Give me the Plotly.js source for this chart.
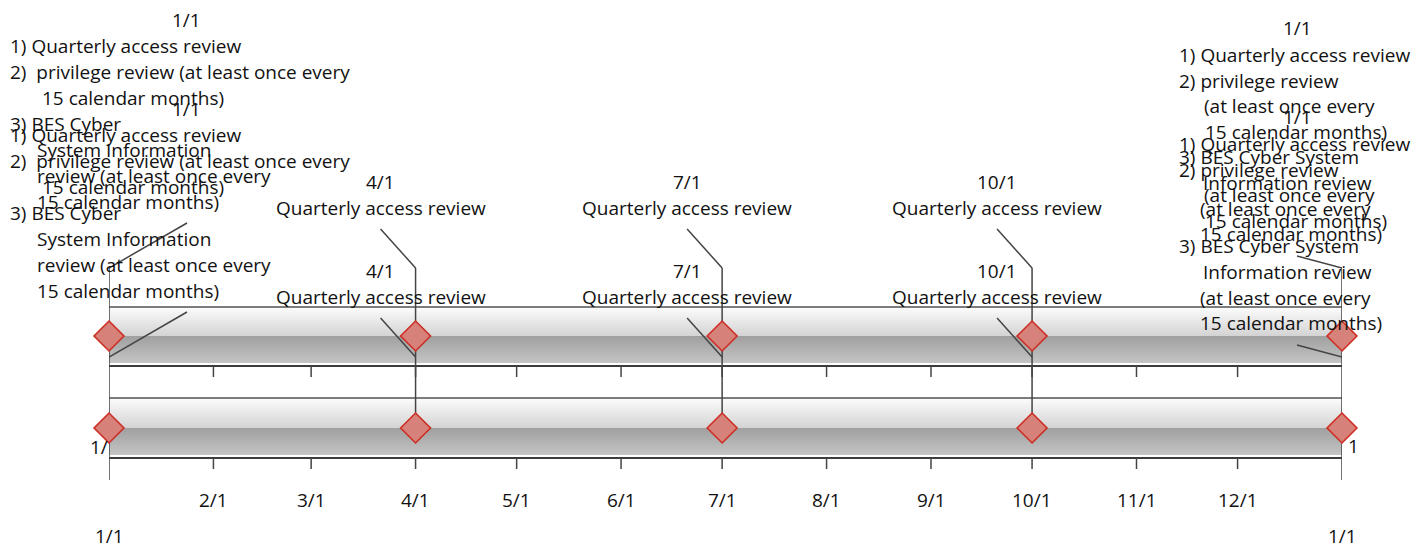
<!DOCTYPE html>
<html><head><meta charset="utf-8">
<script src="https://cdn.plot.ly/plotly-3.0.1.min.js"></script>
<style>html,body{margin:0;padding:0;background:#fff}#chart{width:1425px;height:550px}</style>
</head><body><div id="chart"></div>
<script>
// ---- data ----
const monthDates = ['2024-01-01','2024-02-01','2024-03-01','2024-04-01','2024-05-01','2024-06-01','2024-07-01','2024-08-01','2024-09-01','2024-10-01','2024-11-01','2024-12-01','2025-01-01'];
const monthLabels = ['1/1','2/1','3/1','4/1','5/1','6/1','7/1','8/1','9/1','10/1','11/1','12/1','1/1'];
const milestoneDates = ['2024-01-01','2024-04-01','2024-07-01','2024-10-01','2025-01-01'];
const milestoneLabels = ['1/1','4/1','7/1','10/1','1/1'];
const startDescription = ['1) Quarterly access review','2)  privilege review (at least once every','15 calendar months)','3) BES Cyber','System Information','review (at least once every','15 calendar months)'];
const startIndent = [0,0,32,0,27,27,27];
const quarterDescription = ['Quarterly access review'];
const endDescription = ['1) Quarterly access review','2) privilege review','(at least once every','15 calendar months)','3) BES Cyber System','Information review','(at least once every','15 calendar months)'];
const endIndent = [0,0,25,26,0,24,21,21];

// ---- layout helpers ----
const FONT = {family:'Open Sans, Noto Sans, sans-serif', size:19, color:'#111'};
const first = monthDates[0], last = monthDates[monthDates.length-1];
const shapes = [], annotations = [];
const LINE = '#444';

function hex(c){return 'rgb('+c.map(v=>Math.round(v)).join(',')+')';}
function grad(y0,y1,c0,c1){
  const n = Math.round(y1-y0);
  for(let i=0;i<n;i++){
    const t = n>1 ? i/(n-1) : 0;
    const c = c0.map((v,k)=>v+(c1[k]-v)*t);
    shapes.push({type:'rect',layer:'below',xref:'x',yref:'y',x0:first,x1:last,y0:y0+i,y1:y0+i+1.05,fillcolor:hex(c),line:{width:0}});
  }
}
function hline(y,w,col){shapes.push({type:'line',layer:'below',xref:'x',yref:'y',x0:first,x1:last,y0:y,y1:y,line:{color:col||LINE,width:w||1.5}});}
function vline(x,y0,y1,w){shapes.push({type:'line',layer:'below',xref:'x',yref:'y',x0:x,x1:x,y0:y0,y1:y1,line:{color:LINE,width:w||1.5}});}
function leader(x,dx0,y0,dx1,y1){shapes.push({type:'line',layer:'below',xref:'x',yref:'y',xsizemode:'pixel',xanchor:x,x0:dx0,x1:dx1,y0:y0,y1:y1,line:{color:LINE,width:1.5}});}
function text(t,x,xshift,y,anchor){annotations.push({text:t,x:x,y:y,xref:'x',yref:'y',xshift:xshift,xanchor:anchor||'center',yanchor:'middle',showarrow:false,font:FONT});}

// ---- bands ----
function band(top,mid,bot){
  grad(top+1,mid,[250,250,250],[212,212,212]);
  grad(mid,bot-3,[160,160,160],[196,196,196]);
  hline(top,1.5,'#505050');
  hline(bot,2,'#3c3c3c');
}
band(307,336,366);
band(398,428,458);

// ticks
for(let i=1;i<monthDates.length-1;i++){
  vline(monthDates[i],366,377,1.5);
  vline(monthDates[i],458,469,1.5);
  text(monthLabels[i],monthDates[i],0,500,'center');
}
vline(first,266,480,1.5);
vline(last,268,480,1.5);
text(monthLabels[0],first,0,536,'center');
text(monthLabels[monthLabels.length-1],last,0,536,'center');
text('1/',first,1,447,'right');
text('1',last,4,446,'left');

// ---- milestone callouts (drawn twice, shifted) ----
const copies = [0,89];
copies.forEach(dy=>{
  // start
  text(milestoneLabels[0],milestoneDates[0],77,20+dy,'center');
  startDescription.forEach((s,k)=>text(s,milestoneDates[0],-101+startIndent[k],46+26*k+dy,'left'));
  leader(milestoneDates[0],78,223+dy,0,268+dy);
  // quarters
  for(let m=1;m<milestoneDates.length-1;m++){
    text(milestoneLabels[m],milestoneDates[m],-35,182+dy,'center');
    text(quarterDescription[0],milestoneDates[m],-35,208+dy,'center');
    leader(milestoneDates[m],-35,229+dy,0,268+dy);
  }
  // end
  const e = milestoneDates.length-1;
  text(milestoneLabels[e],milestoneDates[e],-45,28+dy,'center');
  endDescription.forEach((s,k)=>text(s,milestoneDates[e],-165+endIndent[k],55+25.6*k+dy,'left'));
  leader(milestoneDates[e],-45,256+dy,0,268+dy);
});
for(let m=1;m<milestoneDates.length-1;m++) vline(milestoneDates[m],268,428,1.5);

// ---- diamonds ----
const markerStyle = {symbol:'diamond',size:23,color:'rgb(214,130,122)',line:{color:'rgb(205,45,35)',width:1.6}};
const traces = [
  {type:'scatter',mode:'markers',x:milestoneDates,y:milestoneDates.map(()=>336),marker:markerStyle,cliponaxis:false,hoverinfo:'x'},
  {type:'scatter',mode:'markers',x:milestoneDates,y:milestoneDates.map(()=>428),marker:markerStyle,cliponaxis:false,hoverinfo:'x'}
];

const layout = {
  width:1425,height:550,
  margin:{l:109,r:83,t:0,b:0},
  paper_bgcolor:'#fff',plot_bgcolor:'rgba(0,0,0,0)',
  showlegend:false,
  xaxis:{type:'date',range:[first,last],visible:false,fixedrange:true},
  yaxis:{range:[550,0],visible:false,fixedrange:true},
  shapes:shapes,annotations:annotations
};
Plotly.newPlot('chart',traces,layout,{displayModeBar:false,staticPlot:true});
</script></body></html>
